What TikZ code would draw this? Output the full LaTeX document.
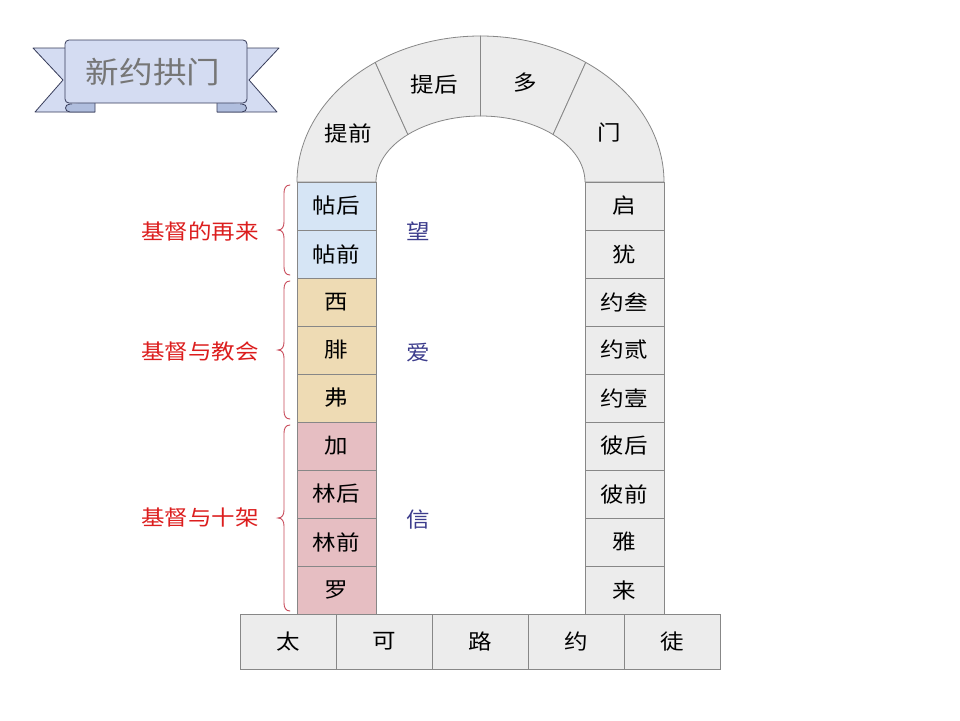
\documentclass[tikz,border=0pt]{standalone}
\usepackage{fontspec}
\newfontfamily\cjk[FakeStretch=1.12]{Noto Sans CJK SC}
\definecolor{granite}{RGB}{236,236,236}
\definecolor{bordergray}{RGB}{135,135,135}
\definecolor{skyblk}{RGB}{214,229,245}
\definecolor{tanblk}{RGB}{238,219,180}
\definecolor{pinkblk}{RGB}{230,190,194}
\definecolor{labelred}{RGB}{220,30,30}
\definecolor{bracered}{RGB}{200,75,90}
\definecolor{virtue}{RGB}{60,60,140}
\definecolor{ribbon}{RGB}{212,220,242}
\definecolor{ribbondark}{RGB}{176,190,222}
\definecolor{ribbonline}{RGB}{55,60,90}
\definecolor{bannertext}{RGB}{118,118,118}
\begin{document}
\begin{tikzpicture}[x=1pt,y=-1pt,
  blk/.style={draw=bordergray, line width=0.8pt, inner sep=0pt, outer sep=0pt,
    minimum width=79pt, minimum height=48pt, text=black,
    font=\cjk\fontsize{21}{25}\selectfont},
  gblk/.style={blk, fill=granite},
  bblk/.style={blk, fill=skyblk},
  tblk/.style={blk, fill=tanblk},
  pblk/.style={blk, fill=pinkblk},
  baseblk/.style={gblk, minimum width=96pt, minimum height=55pt},
  archseg/.style={fill=granite, draw=bordergray, line width=0.8pt, line join=round},
  archtext/.style={inner sep=0pt, text=black, font=\cjk\fontsize{21}{25}\selectfont},
  grouplabel/.style={anchor=east, inner sep=0pt, text=labelred, font=\cjk\fontsize{21}{25}\selectfont},
  virtuelabel/.style={inner sep=0pt, text=virtue, font=\cjk\fontsize{21}{25}\selectfont},
  bracepath/.style={draw=bracered, line width=0.9pt, line cap=round},
  ribbonpart/.style={fill=ribbon, draw=ribbonline, line width=0.8pt, line join=round},
  ribbonfold/.style={fill=ribbondark, draw=ribbonline, line width=0.8pt, line join=round}
]
\useasboundingbox[fill=white] (0,0) rectangle (960,720);

% ---------- banner ----------
\fill[ribbon] (33,48) -- (80,48) -- (80,112) -- (35,112) -- (63,80) -- cycle;
\draw[ribbonline, line width=0.8pt, line join=round] (66,48) -- (33,48) -- (63,80) -- (35,112) -- (95,112);
\fill[ribbon] (279,48) -- (232,48) -- (232,112) -- (277,112) -- (249,80) -- cycle;
\draw[ribbonline, line width=0.8pt, line join=round] (246,48) -- (279,48) -- (249,80) -- (277,112) -- (217,112);
\draw[ribbonfold] (95,101) -- (95,112) -- (70,112) .. controls (64,112) and (64,104) .. (70,104) -- (72,104);
\draw[ribbonfold] (217,101) -- (217,112) -- (242,112) .. controls (248,112) and (248,104) .. (242,104) -- (240,104);
\draw[ribbonpart, rounded corners=4pt] (65,40) rectangle (247,103);
\node[inner sep=0pt, text=bannertext, font=\cjk\fontsize{30}{34}\selectfont] (title) at (153,72) {新约拱门};

% ---------- arch ----------
\draw[archseg] (297,182) arc[start angle=-180, end angle=-125, x radius=183.5, y radius=146]
  -- ({480.5+104.5*cos(134)},{182-66*sin(134)})
  arc[start angle=-134, end angle=-180, x radius=104.5, y radius=66] -- cycle;
\draw[archseg] ({480.5+183.5*cos(125)},{182-146*sin(125)})
  arc[start angle=-125, end angle=-90, x radius=183.5, y radius=146]
  -- (480.5,116)
  arc[start angle=-90, end angle=-134, x radius=104.5, y radius=66] -- cycle;
\draw[archseg] (480.5,36)
  arc[start angle=-90, end angle=-55, x radius=183.5, y radius=146]
  -- ({480.5+104.5*cos(46)},{182-66*sin(46)})
  arc[start angle=-46, end angle=-90, x radius=104.5, y radius=66] -- cycle;
\draw[archseg] ({480.5+183.5*cos(55)},{182-146*sin(55)})
  arc[start angle=-55, end angle=0, x radius=183.5, y radius=146]
  -- (585,182)
  arc[start angle=0, end angle=-46, x radius=104.5, y radius=66] -- cycle;
\node[archtext] (a1) at (348,133) {提前};
\node[archtext] (a2) at (434,85) {提后};
\node[archtext] (a3) at (525,83) {多};
\node[archtext] (a4) at (609,133) {门};

% ---------- left column ----------
\node[bblk] (l1) at (336.5,206) {帖后};
\node[bblk] (l2) at (336.5,254) {帖前};
\node[tblk] (l3) at (336.5,302) {西};
\node[tblk] (l4) at (336.5,350) {腓};
\node[tblk] (l5) at (336.5,398) {弗};
\node[pblk] (l6) at (336.5,446) {加};
\node[pblk] (l7) at (336.5,494) {林后};
\node[pblk] (l8) at (336.5,542) {林前};
\node[pblk] (l9) at (336.5,590) {罗};

% ---------- right column ----------
\node[gblk] (r1) at (624.5,206) {启};
\node[gblk] (r2) at (624.5,254) {犹};
\node[gblk] (r3) at (624.5,302) {约叁};
\node[gblk] (r4) at (624.5,350) {约贰};
\node[gblk] (r5) at (624.5,398) {约壹};
\node[gblk] (r6) at (624.5,446) {彼后};
\node[gblk] (r7) at (624.5,494) {彼前};
\node[gblk] (r8) at (624.5,542) {雅};
\node[gblk] (r9) at (624.5,590) {来};

% ---------- base ----------
\node[baseblk] (b1) at (288,641.5) {太};
\node[baseblk] (b2) at (384,641.5) {可};
\node[baseblk] (b3) at (480,641.5) {路};
\node[baseblk] (b4) at (576,641.5) {约};
\node[baseblk] (b5) at (672,641.5) {徒};

% ---------- braces ----------
\foreach \ya/\ym/\yb in {185/230/275, 281/350/419, 425/518/611}{
  \draw[bracepath] (290,\ya) .. controls (286,\ya) and (284,\ya+3) .. (284,\ya+8)
    -- (284,\ym-8) .. controls (284,\ym-3) and (282,\ym) .. (278,\ym)
    .. controls (282,\ym) and (284,\ym+3) .. (284,\ym+8)
    -- (284,\yb-8) .. controls (284,\yb-3) and (286,\yb) .. (290,\yb);
}

% ---------- labels ----------
\node[grouplabel] (g1) at (259,231) {基督的再来};
\node[grouplabel] (g2) at (259,352) {基督与教会};
\node[grouplabel] (g3) at (259,518) {基督与十架};
\node[virtuelabel] (v1) at (418,231) {望};
\node[virtuelabel] (v2) at (418,353) {爱};
\node[virtuelabel] (v3) at (418,520) {信};
\end{tikzpicture}
\end{document}
